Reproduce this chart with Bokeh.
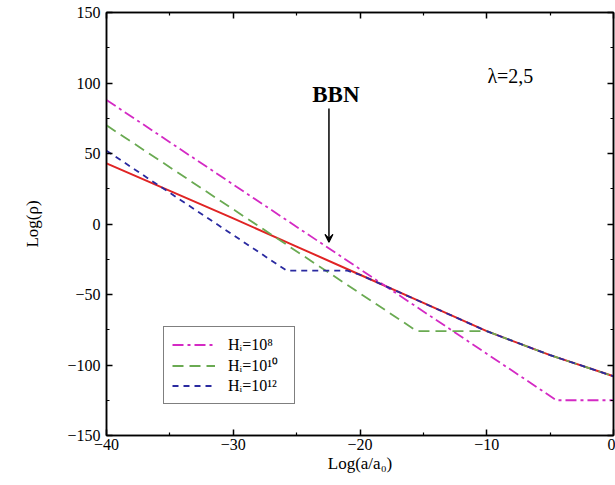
from bokeh.plotting import figure
from bokeh.models import (Range1d, LinearAxis, FixedTicker, Label, Arrow, VeeHead,
                          Legend, LegendItem)
from bokeh.embed import file_html
from bokeh.resources import INLINE

# ---- data ----
x_red = [-40, -35, -30, -25, -20, -15, -10, -5, 0]
y_red = [43, 23.5, 4, -16, -36, -56, -76, -93, -108]

x_mag = [-40, -4.5, 0]
y_mag = [88, -125, -125]

x_green = [-40, -15.5, -10, -5, 0]
y_green = [70, -76, -76, -93, -108]

x_blue = [-40, -25.8, -21, -20, -15, -10, -5, 0]
y_blue = [52, -33, -33, -36, -56, -76, -93, -108]

labels = ["Hᵢ=10⁸", "Hᵢ=10¹⁰", "Hᵢ=10¹²"]

x_ticks = [-40, -30, -20, -10, 0]
x_minor = [-35, -25, -15, -5]
y_ticks = [-150, -100, -50, 0, 50, 100, 150]
y_minor = [-125, -75, -25, 25, 75, 125]

bbn_x = -22.45
bbn_y_start = 82
bbn_y_end = -13

FONT = "Liberation Serif"

p = figure(width=615, height=485, output_backend="svg", toolbar_location=None,
           x_range=Range1d(-40, 0), y_range=Range1d(-150, 150),
           x_axis_location=None, y_axis_location=None,
           min_border_left=106, min_border_top=12, min_border_right=2, min_border_bottom=50)
p.xgrid.visible = False
p.ygrid.visible = False
p.outline_line_color = "black"
p.outline_line_width = 1.5
p.background_fill_color = "white"
p.border_fill_color = "white"


def fmt(v):
    return str(v).replace("-", "\u2212")


def make_axis(loc, ticks, minor, show_labels, label=""):
    ax = LinearAxis(ticker=FixedTicker(ticks=ticks, minor_ticks=minor))
    ax.major_tick_in = 6
    ax.major_tick_out = 0
    ax.minor_tick_in = 3
    ax.minor_tick_out = 0
    ax.axis_line_color = "black"
    ax.axis_line_width = 1.5
    ax.major_tick_line_width = 1.5
    ax.minor_tick_line_width = 1.2
    if show_labels:
        ax.major_label_overrides = {t: fmt(t) for t in ticks}
        ax.major_label_text_font = FONT
        ax.major_label_text_font_size = "16px"
        ax.major_label_text_color = "black"
        ax.axis_label = label
        ax.axis_label_text_font = FONT
        ax.axis_label_text_font_size = "17px"
        ax.axis_label_text_font_style = "normal"
        ax.axis_label_text_color = "black"
    else:
        ax.major_label_text_font_size = "0px"
        ax.major_label_standoff = 0
    p.add_layout(ax, loc)
    return ax


ax_b = make_axis("below", x_ticks, x_minor, True, "Log(a/a₀)")
ax_b.major_label_standoff = 3
ax_b.axis_label_standoff = 1
ax_l = make_axis("left", y_ticks, y_minor, True, "Log(ρ)")
ax_l.major_label_standoff = 6
ax_l.axis_label_standoff = 22
make_axis("right", y_ticks, y_minor, False)
make_axis("above", x_ticks, x_minor, False)

p.line(x_red, y_red, line_color="#e02424", line_width=2)
r_mag = p.line(x_mag, y_mag, line_color="#d42ac4", line_width=1.8, line_dash="11 4 3 4")
r_green = p.line(x_green, y_green, line_color="#6aaa52", line_width=1.8, line_dash="11 6")
r_blue = p.line(x_blue, y_blue, line_color="#2a2aa0", line_width=1.8, line_dash="6 5")

legend = Legend(items=[LegendItem(label=labels[0], renderers=[r_mag]),
                       LegendItem(label=labels[1], renderers=[r_green]),
                       LegendItem(label=labels[2], renderers=[r_blue])],
                location=(57, 31))
legend.label_text_font = FONT
legend.label_text_font_size = "16px"
legend.label_text_color = "black"
legend.glyph_width = 43
legend.glyph_height = 19
legend.label_height = 19
legend.label_width = 58
legend.label_standoff = 13
legend.spacing = 0
legend.padding = 8
legend.margin = 0
legend.border_line_color = "black"
legend.border_line_width = 1.5
legend.background_fill_color = "white"
legend.background_fill_alpha = 1
p.add_layout(legend, "center")

p.add_layout(Label(x=-9.95, y=105, text="λ=2,5", text_font=FONT, text_font_size="20px",
                   text_baseline="middle", text_align="left", text_color="black"))
p.add_layout(Label(x=-21.9, y=92, text="BBN", text_font=FONT, text_font_size="23px",
                   text_font_style="bold", text_baseline="middle", text_align="center",
                   text_color="black"))
p.add_layout(Arrow(x_start=bbn_x, y_start=bbn_y_start, x_end=bbn_x, y_end=bbn_y_end,
                   line_color="black", line_width=1.5,
                   end=VeeHead(size=8, line_color="black", line_width=1.2, fill_color="black")))

open("out.html", "w").write(file_html(p, INLINE))
